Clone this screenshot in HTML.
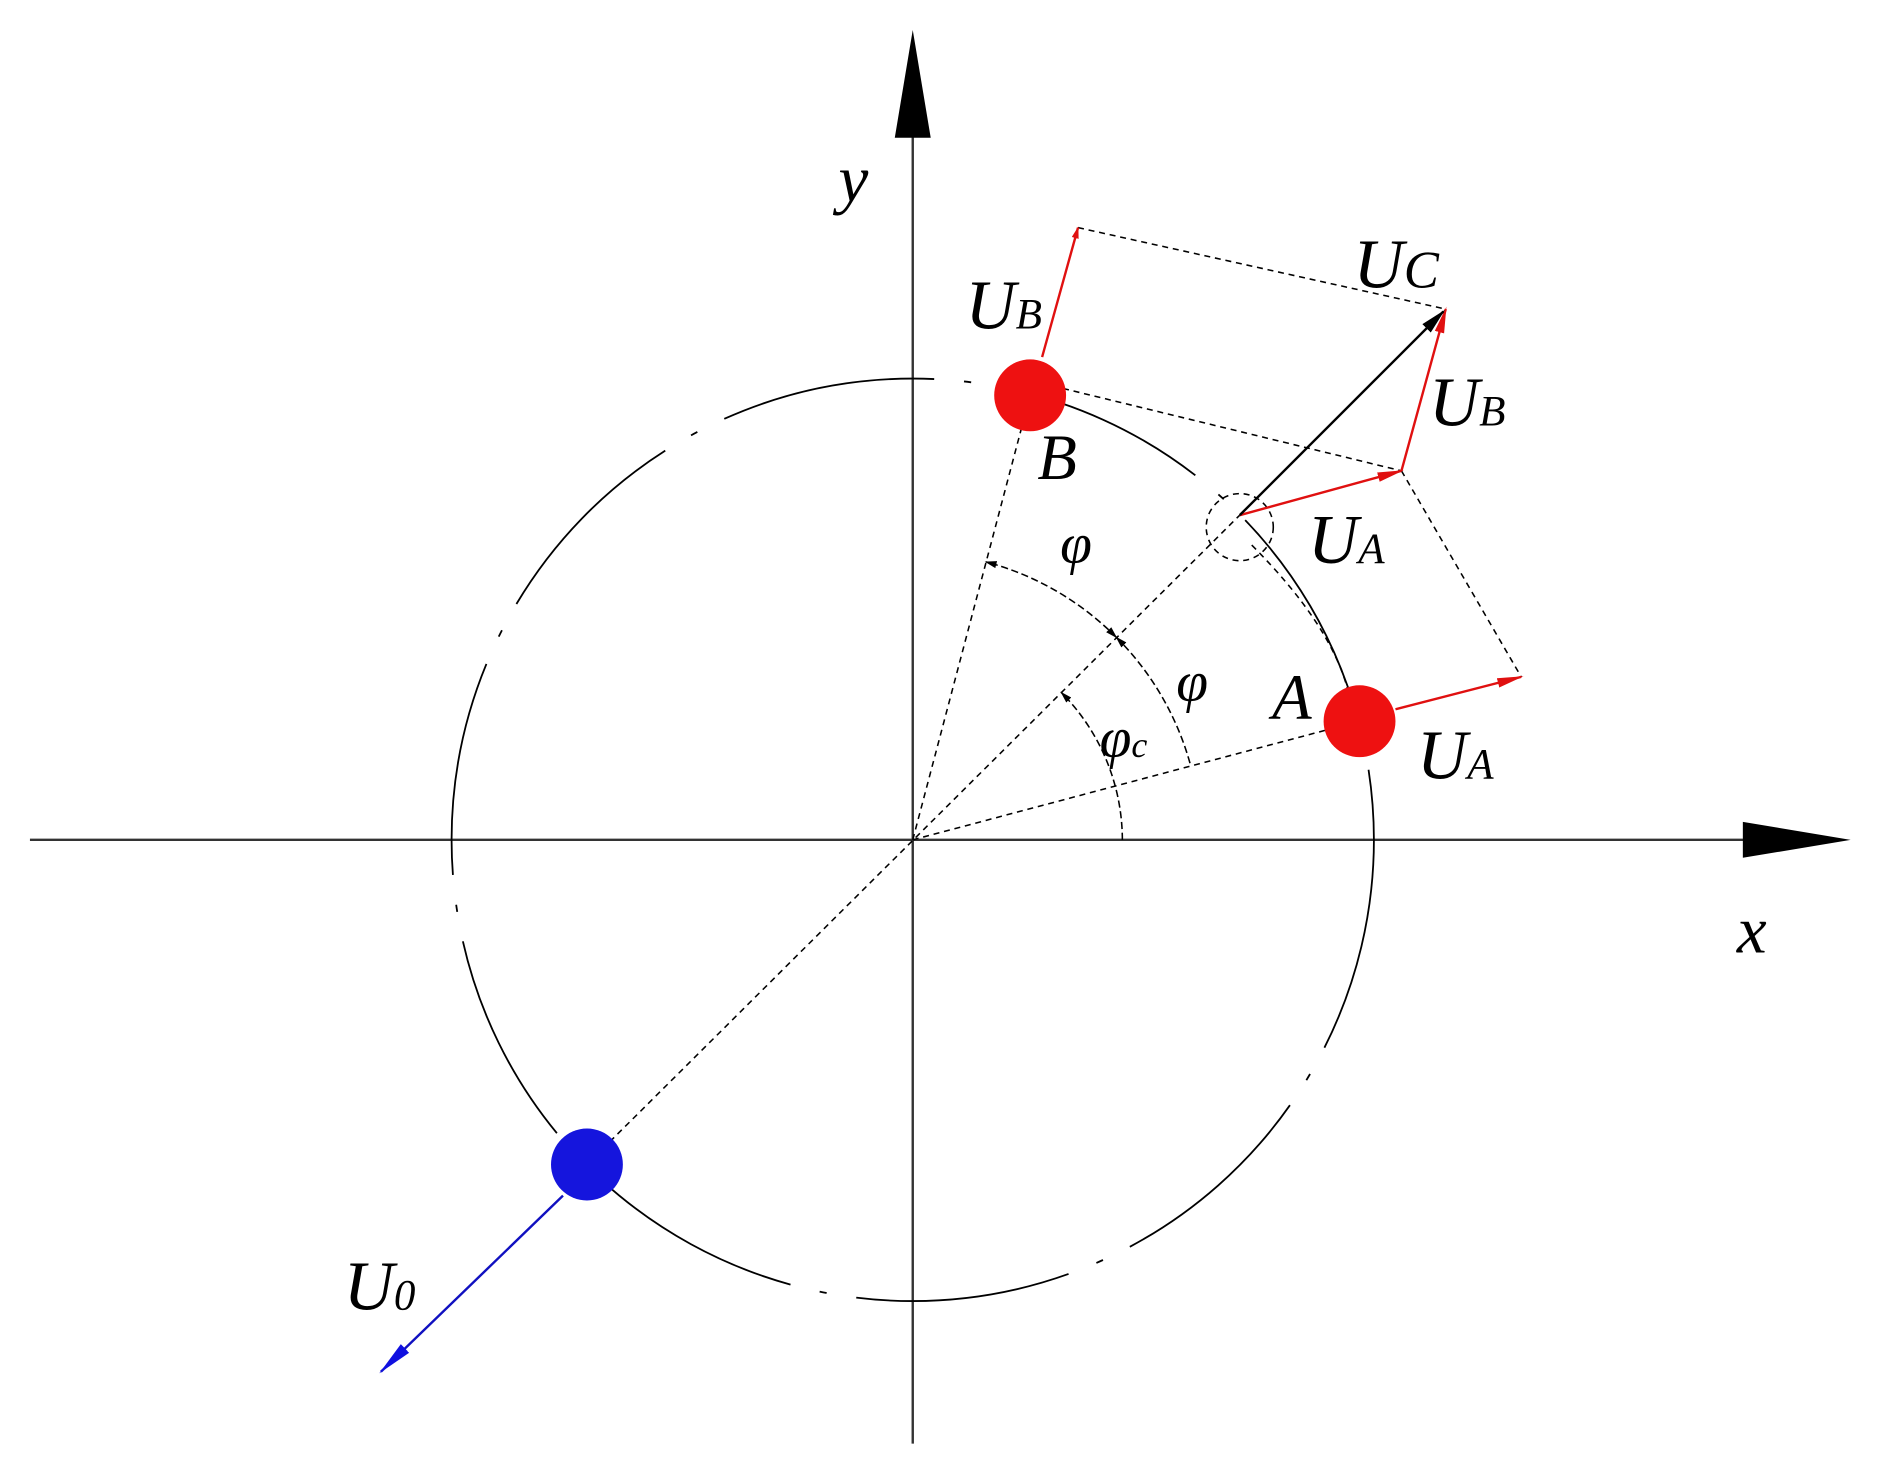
<!DOCTYPE html>
<html><head><style>html,body{margin:0;padding:0;background:#fff}svg{display:block}</style></head>
<body>
<svg width="1877" height="1470" viewBox="0 0 1567 1227" preserveAspectRatio="none" xmlns="http://www.w3.org/2000/svg">
<defs>
<marker id="ar" markerWidth="10" markerHeight="6" refX="9" refY="3" orient="auto" markerUnits="userSpaceOnUse" viewBox="0 0 10 6"><path d="M0,0 L10,3 L0,6 Z" fill="#e01010"/></marker>
<marker id="ar2" markerWidth="22" markerHeight="10" refX="20" refY="5" orient="auto" markerUnits="userSpaceOnUse"><path d="M0,1 L22,5 L0,9 Z" fill="#e01010"/></marker>
<marker id="ak" markerWidth="22" markerHeight="12" refX="20" refY="6" orient="auto" markerUnits="userSpaceOnUse"><path d="M0,1 L22,6 L0,11 Z" fill="#000"/></marker>
<marker id="ab" markerWidth="30" markerHeight="14" refX="28" refY="7" orient="auto" markerUnits="userSpaceOnUse"><path d="M0,2 L30,7 L0,12 Z" fill="#1010e0"/></marker>
<marker id="sa" markerWidth="10" markerHeight="6" refX="9" refY="3" orient="auto" markerUnits="userSpaceOnUse"><path d="M0,0 L10,3 L0,6 Z" fill="#000"/></marker>
</defs>
<g fill="none" stroke="#000">
<line x1="25" y1="701" x2="1460" y2="701" stroke-width="2" stroke="#333"/>
<path d="M1455,686 L1545,701 L1455,716 Z" fill="#000" stroke="none"/>
<line x1="762" y1="110" x2="762" y2="1205" stroke-width="2" stroke="#333"/>
<path d="M747,115 L762,25 L777,115 Z" fill="#000" stroke="none"/>
<circle cx="762" cy="701" r="385" stroke-width="1.5" stroke-dasharray="180 25 6 25"/>
<g stroke-width="1.3" stroke-dasharray="5 4">
<line x1="762" y1="701" x2="860" y2="330"/>
<line x1="762" y1="701" x2="1135" y2="602"/>
<line x1="490" y1="972" x2="1035" y2="430"/>
<line x1="900" y1="190" x2="1207" y2="258"/>
<line x1="870" y1="320" x2="1170" y2="393"/>
<line x1="1170" y1="393" x2="1270" y2="565"/>
<circle cx="1035" cy="440" r="28"/>
<path d="M1045,455 Q1110,520 1125,575"/>
</g>
<g stroke-width="1.3" stroke-dasharray="6 3">
<path d="M937,701 A175,175 0 0 0 886,578" marker-end="url(#sa)"/>
<path d="M932,532 A240,240 0 0 1 994,639" marker-start="url(#sa)"/>
<path d="M932,532 A240,240 0 0 0 823,469" marker-start="url(#sa)" marker-end="url(#sa)"/>
</g>
<g stroke="#e01010" stroke-width="2">
<line x1="870" y1="298" x2="900" y2="190" marker-end="url(#ar)"/>
<line x1="1165" y1="592" x2="1270" y2="565" marker-end="url(#ar2)"/>
<line x1="1035" y1="430" x2="1170" y2="393" marker-end="url(#ar2)"/>
<line x1="1170" y1="393" x2="1207" y2="258" marker-end="url(#ar2)"/>
</g>
<line x1="1035" y1="430" x2="1205" y2="260" stroke-width="2" marker-end="url(#ak)"/>
<line x1="470" y1="998" x2="318" y2="1145" stroke="#1010c0" stroke-width="2" marker-end="url(#ab)"/>
</g>
<circle cx="860" cy="330" r="30" fill="#ee1111"/>
<circle cx="1135" cy="602" r="30" fill="#ee1111"/>
<circle cx="490" cy="972" r="30" fill="#1515dd"/>
<g font-family="Liberation Serif, serif" font-style="italic" fill="#000">
<text x="700" y="168" font-size="56">y</text>
<text x="1450" y="795" font-size="56">x</text>
<text x="806" y="274" font-size="58">U<tspan font-size="36">B</tspan></text>
<text x="1130" y="240" font-size="58">U<tspan font-size="44">C</tspan></text>
<text x="1193" y="355" font-size="58">U<tspan font-size="36">B</tspan></text>
<text x="866" y="400" font-size="54">B</text>
<text x="1092" y="470" font-size="58">U<tspan font-size="36">A</tspan></text>
<text x="885" y="470" font-size="48">φ</text>
<text x="982" y="585" font-size="48">φ</text>
<text x="918" y="632" font-size="48">φ<tspan font-size="30">c</tspan></text>
<text x="1062" y="600" font-size="54">A</text>
<text x="1183" y="650" font-size="58">U<tspan font-size="36">A</tspan></text>
<text x="287" y="1093" font-size="58">U<tspan font-size="36">0</tspan></text>
</g>
</svg>
</body></html>
